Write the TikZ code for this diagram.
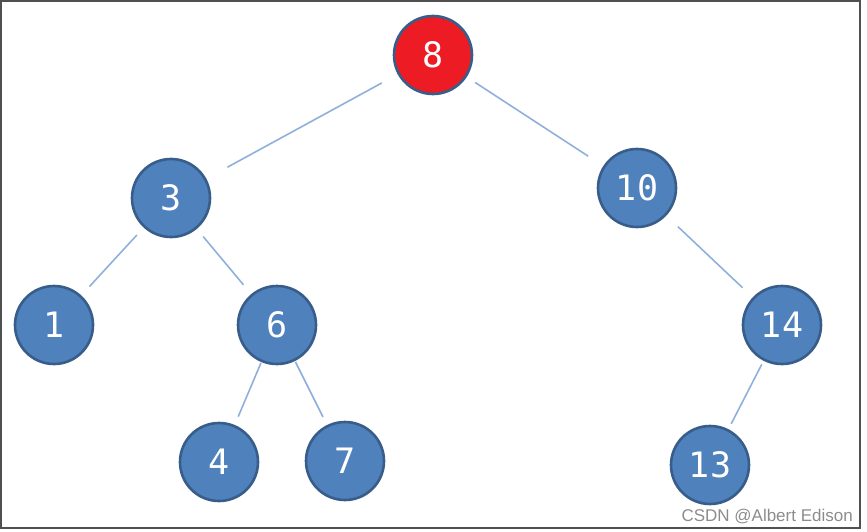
\documentclass[tikz,border=0pt]{standalone}
\usepackage{fontspec}
\newfontfamily\numfont{DejaVu Sans Mono}
\newfontfamily\wmfont{Liberation Sans}
\definecolor{nodefill}{HTML}{4F81BD}
\definecolor{nodeline}{HTML}{385D8A}
\definecolor{rootfill}{HTML}{ED1C24}
\definecolor{edgecol}{HTML}{8FB0DA}
\definecolor{framecol}{HTML}{505050}
\definecolor{wmcol}{HTML}{8C8C8C}
\tikzset{
  tnode/.style={circle, minimum size=78pt, inner sep=0pt, fill=nodefill, draw=nodeline, line width=2.6pt, text=white, font=\numfont\fontsize{35}{35}\selectfont},
  rootnode/.style={tnode, fill=rootfill},
  tedge/.style={draw=edgecol, line width=1.6pt, shorten >=12pt, shorten <=12pt},
}
\begin{document}
\begin{tikzpicture}[x=1pt,y=-1pt]
\useasboundingbox (0,0) rectangle (867,532);
\draw[framecol, line width=1.6pt] (0.8,0.8) rectangle (860,528);
\node[rootnode] (n8) at (433,55) {8};
\node[tnode] (n3) at (171,198) {3};
\node[tnode] (n10) at (637,188) {10};
\node[tnode] (n1) at (54,325) {1};
\node[tnode] (n6) at (277,325) {6};
\node[tnode] (n14) at (782,325) {14};
\node[tnode] (n4) at (219,462) {4};
\node[tnode] (n7) at (345,461) {7};
\node[tnode] (n13) at (710,465) {13};
\draw[tedge, shorten <=18pt, shorten >=24pt] (n8) -- (n3);
\draw[tedge, shorten <=10pt, shorten >=18pt] (n8) -- (n10);
\draw[tedge, shorten <=10pt, shorten >=12pt] (n3) -- (n1);
\draw[tedge, shorten <=10pt, shorten >=12pt] (n3) -- (n6);
\draw[tedge, shorten <=1pt, shorten >=9pt] (n6) -- (n4);
\draw[tedge, shorten <=1pt, shorten >=9pt] (n6) -- (n7);
\draw[tedge, shorten <=16pt, shorten >=14pt] (n10) -- (n14);
\draw[tedge, shorten <=4pt, shorten >=6pt] (n14) -- (n13);
\node[anchor=base east, text=wmcol, font=\wmfont\fontsize{17}{17}\selectfont, inner sep=0pt] (wm) at (853,521) {CSDN @Albert Edison};
\end{tikzpicture}
\end{document}
